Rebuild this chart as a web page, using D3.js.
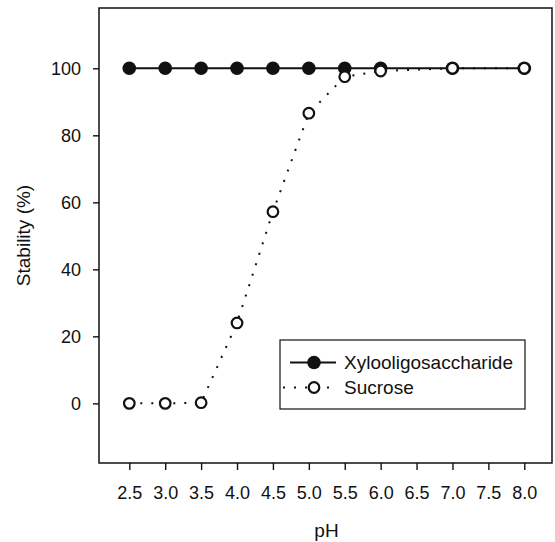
<!DOCTYPE html>
<html>
<head>
<meta charset="utf-8">
<script src="https://cdn.jsdelivr.net/npm/d3@7"></script>
<style>
  html, body { margin: 0; padding: 0; background: #fff; }
  svg { display: block; }
  text { font-family: "Liberation Sans", Arial, Helvetica, sans-serif; fill: #111; }
</style>
</head>
<body>
<svg id="chart" width="555" height="542"></svg>
<script>
// pH values tested
const phXylo = [2.5, 3.0, 3.5, 4.0, 4.5, 5.0, 5.5, 6.0, 7.0, 8.0];
const stabilityXylo = [100, 100, 100, 100, 100, 100, 100, 100, 100, 100];

const phSucrose = [2.5, 3.0, 3.5, 4.0, 4.5, 5.0, 5.5, 6.0, 7.0, 8.0];
const stabilitySucrose = [0, 0, 0.2, 24, 57.2, 86.6, 97.5, 99.2, 100, 100];

const xTicks = [2.5, 3.0, 3.5, 4.0, 4.5, 5.0, 5.5, 6.0, 6.5, 7.0, 7.5, 8.0];
const yTicks = [0, 20, 40, 60, 80, 100];

const seriesNames = ["Xylooligosaccharide", "Sucrose"];

const svg = d3.select("#chart");
const plotLeft = 99, plotRight = 552, plotTop = 8, plotBottom = 463;

const x = d3.scaleLinear().domain([2.078, 8.386]).range([plotLeft, plotRight]);
const y = d3.scaleLinear().domain([-17.8, 118]).range([plotBottom, plotTop]);

// axes
const xAxis = d3.axisBottom(x).tickValues(xTicks).tickFormat(d3.format(".1f"))
  .tickSize(7).tickPadding(16);
const yAxis = d3.axisLeft(y).tickValues(yTicks).tickSize(6).tickPadding(12);

const gx = svg.append("g").attr("transform", `translate(0,${plotBottom})`).call(xAxis);
const gy = svg.append("g").attr("transform", `translate(${plotLeft},0)`).call(yAxis);
[gx, gy].forEach(g => {
  g.select(".domain").remove();
  g.selectAll(".tick line").attr("stroke", "#111").attr("stroke-width", 1.4);
  g.selectAll(".tick text").attr("font-size", 18).attr("fill", "#111")
    .style("font-family", '"Liberation Sans", Arial, sans-serif');
});

// plot frame
svg.append("rect")
  .attr("x", plotLeft).attr("y", plotTop)
  .attr("width", plotRight - plotLeft).attr("height", plotBottom - plotTop)
  .attr("fill", "none").attr("stroke", "#111").attr("stroke-width", 1.5);

// axis titles
svg.append("text")
  .attr("x", (plotLeft + plotRight) / 2 + 1).attr("y", 537)
  .attr("text-anchor", "middle").attr("font-size", 19)
  .text("pH");
svg.append("text")
  .attr("transform", `translate(30,${(plotTop + plotBottom) / 2}) rotate(-90)`)
  .attr("text-anchor", "middle").attr("font-size", 19)
  .text("Stability (%)");

const line = d3.line().x(d => x(d[0])).y(d => y(d[1]));
const xyloData = phXylo.map((p, i) => [p, stabilityXylo[i]]);
const sucroseData = phSucrose.map((p, i) => [p, stabilitySucrose[i]]);

// Xylooligosaccharide: solid line with filled circles
svg.append("path").datum(xyloData)
  .attr("d", line).attr("fill", "none")
  .attr("stroke", "#111").attr("stroke-width", 2);
svg.append("g").selectAll("circle").data(xyloData).join("circle")
  .attr("cx", d => x(d[0])).attr("cy", d => y(d[1]))
  .attr("r", 6.8).attr("fill", "#111");

// Sucrose: dotted line with open circles
svg.append("path").datum(sucroseData)
  .attr("d", line).attr("fill", "none")
  .attr("stroke", "#111").attr("stroke-width", 2)
  .attr("stroke-dasharray", "2,9");
svg.append("g").selectAll("circle").data(sucroseData).join("circle")
  .attr("cx", d => x(d[0])).attr("cy", d => y(d[1]))
  .attr("r", 5.3).attr("fill", "#fff")
  .attr("stroke", "#111").attr("stroke-width", 2.2);

// legend
const lg = svg.append("g");
lg.append("rect")
  .attr("x", 280).attr("y", 340).attr("width", 245).attr("height", 69)
  .attr("fill", "#fff").attr("stroke", "#111").attr("stroke-width", 1.2);

const rows = [362.5, 387.5];
// solid sample
lg.append("line").attr("x1", 290).attr("x2", 336)
  .attr("y1", rows[0]).attr("y2", rows[0])
  .attr("stroke", "#111").attr("stroke-width", 2);
lg.append("circle").attr("cx", 314).attr("cy", rows[0]).attr("r", 6.8).attr("fill", "#111");
// dotted sample
lg.append("line").attr("x1", 283).attr("x2", 336)
  .attr("y1", rows[1]).attr("y2", rows[1])
  .attr("stroke", "#111").attr("stroke-width", 2)
  .attr("stroke-dasharray", "2,9");
lg.append("circle").attr("cx", 314).attr("cy", rows[1]).attr("r", 5.3)
  .attr("fill", "#fff").attr("stroke", "#111").attr("stroke-width", 2.2);

lg.selectAll("text.lab").data(seriesNames).join("text")
  .attr("class", "lab")
  .attr("x", 344).attr("y", (d, i) => rows[i])
  .attr("dy", "0.35em").attr("font-size", 19)
  .text(d => d);
</script>
</body>
</html>
